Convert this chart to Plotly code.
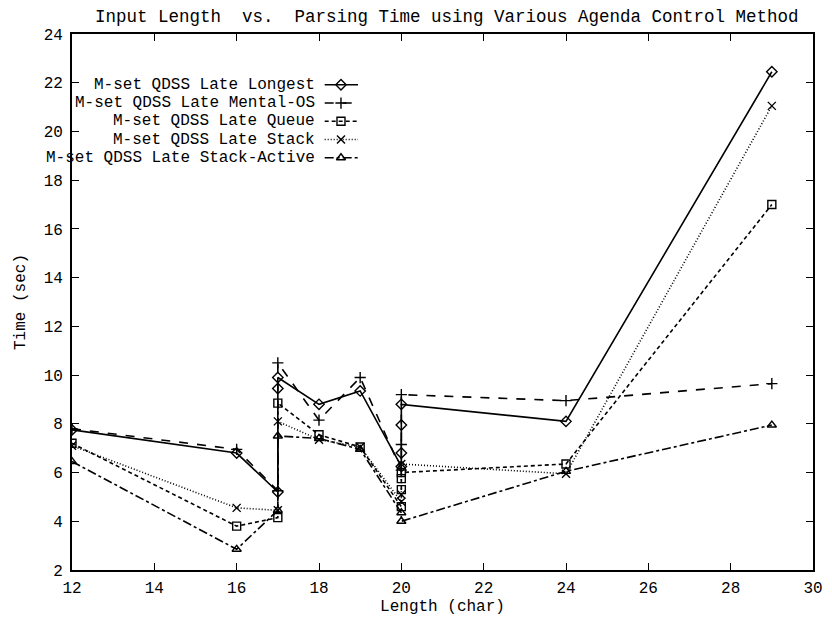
import plotly.graph_objects as go

# ---- data ----
series_names = [
    "M-set QDSS Late Longest",
    "M-set QDSS Late Mental-OS",
    "M-set QDSS Late Queue",
    "M-set QDSS Late Stack",
    "M-set QDSS Late Stack-Active",
]

x_longest = [12, 16, 17, 17, 17, 18, 19, 20, 20, 20, 20, 24, 29]
y_longest = [7.75, 6.8, 5.2, 9.45, 9.9, 8.8, 9.35, 6.25, 6.8, 7.95, 8.8, 8.1, 22.45]

x_mental = [12, 16, 17, 17, 18, 19, 20, 20, 20, 24, 29]
y_mental = [7.8, 6.95, 5.25, 10.5, 8.15, 9.9, 6.1, 7.15, 9.2, 8.95, 9.65]

x_queue = [12, 16, 17, 17, 18, 19, 20, 20, 20, 20, 24, 29]
y_queue = [7.2, 3.8, 4.15, 8.85, 7.55, 7.05, 4.6, 5.3, 5.75, 6.0, 6.35, 17.0]

x_stack = [12, 16, 17, 17, 18, 19, 20, 20, 20, 24, 29]
y_stack = [7.1, 4.55, 4.45, 8.1, 7.35, 7.05, 4.8, 5.1, 6.35, 5.95, 21.05]

x_active = [12, 16, 17, 17, 18, 19, 20, 20, 24, 29]
y_active = [6.45, 2.85, 4.45, 7.5, 7.4, 6.95, 4.35, 4.0, 6.05, 7.95]

x_ticks = [12, 14, 16, 18, 20, 22, 24, 26, 28, 30]
y_ticks = [2, 4, 6, 8, 10, 12, 14, 16, 18, 20, 22, 24]

title_text = "Input Length&nbsp;&nbsp;vs.&nbsp;&nbsp;Parsing Time using Various Agenda Control Method"
x_title = "Length (char)"
y_title = "Time (sec)"

# ---- styles ----
FONT = "Liberation Mono"
styles = [
    dict(dash="solid", symbol="diamond-open"),
    dict(dash="dash", symbol="cross-thin-open"),
    dict(dash="4px,3px", symbol="square-open"),
    dict(dash="1px,2px", symbol="x-thin-open"),
    dict(dash="dashdot", symbol="triangle-up-open"),
]
xs = [x_longest, x_mental, x_queue, x_stack, x_active]
ys = [y_longest, y_mental, y_queue, y_stack, y_active]

fig = go.Figure()
for name, x, y, st in zip(series_names, xs, ys, styles):
    fig.add_trace(go.Scatter(
        x=x, y=y, mode="lines+markers", name=name,
        line=dict(color="black", width=1.6, dash=st["dash"]),
        marker=dict(symbol=st["symbol"], size=8, color="black",
                    line=dict(color="black", width=1.4)),
        showlegend=False,
    ))

# ---- gnuplot-style key: right-aligned text, sample to the right ----
key_rows = [0.9052, 0.8712, 0.8372, 0.8031, 0.7691]
key_x0, key_x1, key_xm = 0.341, 0.386, 0.363
for name, st, ry in zip(series_names, styles, key_rows):
    fig.add_trace(go.Scatter(
        x=[key_x0, key_x1], y=[ry, ry], mode="lines", xaxis="x2", yaxis="y2",
        line=dict(color="black", width=1.6, dash=st["dash"]), showlegend=False,
        hoverinfo="skip"))
    fig.add_trace(go.Scatter(
        x=[key_xm], y=[ry], mode="markers", xaxis="x2", yaxis="y2",
        marker=dict(symbol=st["symbol"], size=8, color="black",
                    line=dict(color="black", width=1.4)),
        showlegend=False, hoverinfo="skip"))
    fig.add_annotation(
        x=key_x0 - 0.01, y=ry, xref="x2", yref="y2", text=name,
        showarrow=False, xanchor="right", yanchor="middle",
        font=dict(family=FONT, size=16, color="black"))

axis_common = dict(
    showline=True, linecolor="black", linewidth=1.8, mirror="allticks",
    ticks="inside", ticklen=7, tickwidth=1.4, tickcolor="black",
    showgrid=False, zeroline=False,
    tickfont=dict(family=FONT, size=16, color="black"),
)

fig.update_layout(
    width=832, height=618,
    margin=dict(l=72, r=9, t=34, b=46),
    paper_bgcolor="white", plot_bgcolor="white",
    title=dict(text=title_text, x=0.537, xanchor="center", y=0.975, yanchor="middle",
               font=dict(family=FONT, size=17.5, color="black")),
    xaxis=dict(range=[12, 30], tickvals=x_ticks, ticklabelstandoff=2,
               title=dict(text=x_title, standoff=0,
                          font=dict(family=FONT, size=16, color="black")),
               **axis_common),
    yaxis=dict(range=[2, 24], tickvals=y_ticks, ticklabelstandoff=4,
               title=dict(text=y_title, standoff=14,
                          font=dict(family=FONT, size=16, color="black")),
               **axis_common),
    xaxis2=dict(range=[0, 1], overlaying="x", visible=False),
    yaxis2=dict(range=[0, 1], overlaying="y", visible=False),
)

fig.write_html("out.html")
